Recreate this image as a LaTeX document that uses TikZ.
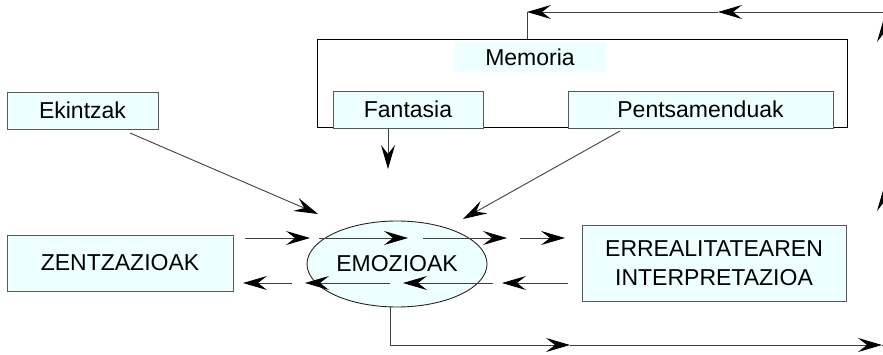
\documentclass[tikz,border=0pt]{standalone}
\usepackage{fontspec}
\setmainfont{Liberation Sans}
\usetikzlibrary{arrows.meta,shapes.geometric}
\definecolor{boxfill}{HTML}{EEFFFF}
\begin{document}
\begin{tikzpicture}[x=1pt,y=-1pt,
  lbl/.style={font=\fontsize{23}{29}\selectfont, inner sep=0pt, align=center},
  box/.style={lbl, draw=black!65, fill=boxfill, line width=0.9pt},
  conn/.style={draw=black!75, line width=0.9pt},
  arr/.style={conn, -{Stealth[length=24pt,width=14pt,inset=9pt,color=black]}}]
\useasboundingbox (0,0) rectangle (883,355);
\clip (0,0) rectangle (883,355);
% memory group
\node[draw=black, line width=0.9pt, minimum width=530pt, minimum height=88pt, inner sep=0pt] (mem) at (582,83) {};
\node[lbl, fill=boxfill, minimum width=152pt, minimum height=30pt] (memlbl) at (530,57) {Memoria};
\node[box, minimum width=150pt, minimum height=37pt] (fan) at (408,109.5) {Fantasia};
\node[box, minimum width=265pt, minimum height=37pt] (pen) at (700.5,109.5) {Pentsamenduak};
% other nodes
\node[box, minimum width=151pt, minimum height=37pt] (ek) at (82.5,110.5) {Ekintzak};
\node[box, minimum width=226pt, minimum height=56pt] (zen) at (120,263) {ZENTZAZIOAK};
\node[box, minimum width=264pt, minimum height=76pt] (err) at (714,263) {ERREALITATEAREN\\INTERPRETAZIOA};
\node[lbl, ellipse, draw=black!85, fill=boxfill, line width=0.9pt, minimum width=180pt, minimum height=86pt] (emo) at (397,264) {EMOZIOAK};
% coordinates
\coordinate (t1) at (527,12);
\coordinate (t2) at (718,12);
\coordinate (t3) at (884,12);
\coordinate (r0) at (884,345);
\coordinate (r1) at (884,187);
\coordinate (r2) at (884,18);
\coordinate (b1) at (390,345);
\coordinate (b2) at (570,345);
\coordinate (b3) at (882,345);
\coordinate (ek0) at (130,133);
\coordinate (ek1) at (318,214);
\coordinate (pe0) at (620,131);
\coordinate (pe1) at (463,219);
\coordinate (fa0) at (388,128);
\coordinate (fa1) at (388,169);
\coordinate (u0) at (245,238);
\coordinate (u1) at (310,238);
\coordinate (u2) at (319,238);
\coordinate (u3) at (408,238);
\coordinate (u4) at (423,238);
\coordinate (u5) at (507,238);
\coordinate (u6) at (520,238);
\coordinate (u7) at (565,238);
\coordinate (l0) at (568,283);
\coordinate (l1) at (502,283);
\coordinate (l2) at (493,283);
\coordinate (l3) at (403,283);
\coordinate (l4) at (390,283);
\coordinate (l5) at (305,283);
\coordinate (l6) at (292,283);
\coordinate (l7) at (243,283);
% top feedback line
\draw[arr] (t3) -- (t2);
\draw[arr] (t2) -- (t1);
\draw[conn] (t1) -- (t1 |- mem.north);
% right side (mostly off canvas)
\draw[arr] (r0) -- (r1);
\draw[arr] (r1) -- (r2);
\draw[conn] (r2) -- (t3);
% bottom line
\draw[arr] (b1 |- emo.south) -- (b1) -- (b2);
\draw[arr] (b2) -- (b3);
\draw[conn] (b3) -- (r0);
% inputs to emozioak
\draw[arr] (ek0) -- (ek1);
\draw[arr] (pe0) -- (pe1);
\draw[arr] (fa0) -- (fa1);
% upper row
\draw[arr] (u0) -- (u1);
\draw[arr] (u2) -- (u3);
\draw[arr] (u4) -- (u5);
\draw[arr] (u6) -- (u7);
% lower row
\draw[arr] (l0) -- (l1);
\draw[arr] (l2) -- (l3);
\draw[arr] (l4) -- (l5);
\draw[arr] (l6) -- (l7);
\end{tikzpicture}
\end{document}
